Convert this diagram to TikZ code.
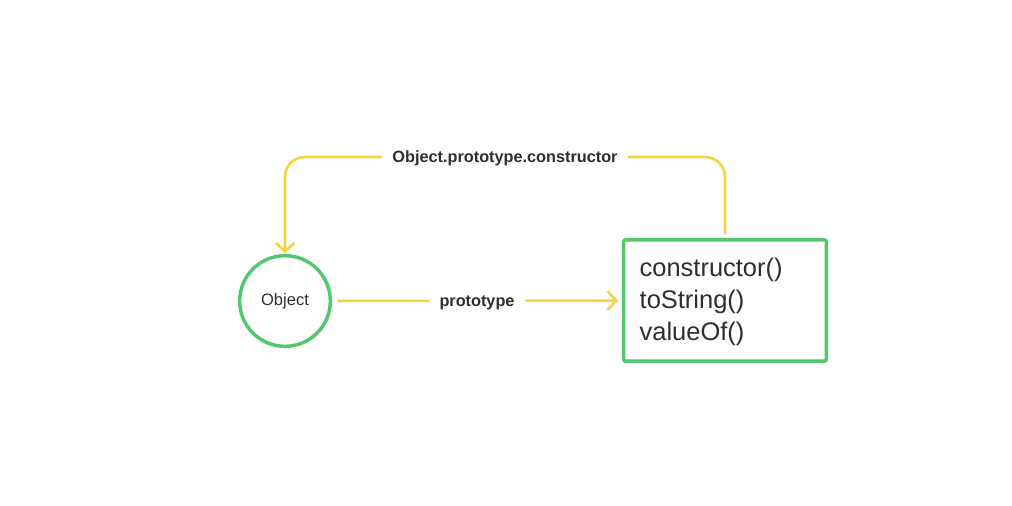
\documentclass[tikz,border=0pt]{standalone}
\usepackage{fontspec}
\setmainfont{Liberation Sans}
\usepackage{xcolor}
\usepackage{tikz}
\usetikzlibrary{arrows.meta}
\definecolor{linkyellow}{HTML}{F9D13E}
\definecolor{boxgreen}{HTML}{52C76E}
\definecolor{ink}{HTML}{2E2E2E}

\begin{document}
\begin{tikzpicture}[x=0.75pt, y=-0.75pt]
\tikzstyle{vertex}=[circle, draw=boxgreen, line width=2.6pt, minimum size=68pt, inner sep=0pt, text=ink, font=\fontsize{12.4}{14}\selectfont]
\tikzstyle{protobox}=[rectangle, draw=boxgreen, line width=2.6pt, rounded corners=1.5pt, minimum height=91pt, text width=128pt, inner xsep=12pt, align=left, text=ink, font=\fontsize{19.1}{24}\selectfont]
\tikzstyle{link}=[draw=linkyellow, line width=1.9pt, -{Straight Barb[length=6.5pt, width=14pt, line width=1.9pt]}]
\tikzstyle{label}=[fill=white, inner xsep=8pt, inner ysep=3pt, text=ink, font=\bfseries\fontsize{12.2}{14}\selectfont]
\useasboundingbox (0,0) rectangle (1012,506);

\node[vertex] (obj) at (285,301) {\raisebox{-1.5pt}{Object}};
\node[protobox] (proto) at (725,300.5) {\rule{0pt}{16pt}constructor()\\toString()\\valueOf()};

\coordinate (top) at (505,157);
\draw[link, rounded corners=15pt, shorten <=3pt, shorten >=0.5pt]
(proto.north) -- (proto.north |- top) -- (obj.north |- top) -- (obj.north);
\draw[link, shorten <=4pt, shorten >=3pt] (obj.east) -- (proto.west);

\node[label] (ctor) at (505,158.5) {Object.prototype.constructor};
\node[label] (plab) at (477,303) {prototype};

\end{tikzpicture}
\end{document}
